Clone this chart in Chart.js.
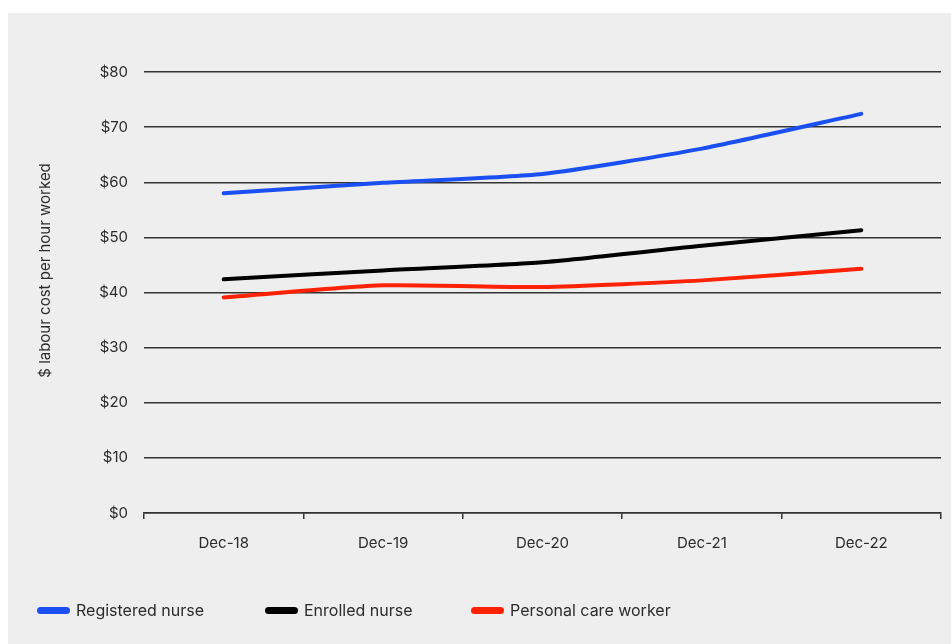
<!DOCTYPE html>
<html>
<head>
<meta charset="utf-8">
<script src="https://cdn.jsdelivr.net/npm/chart.js@4/dist/chart.umd.min.js"></script>
<style>
  html, body { margin: 0; padding: 0; background: #ffffff; }
  body { width: 951px; height: 644px; position: relative; overflow: hidden; font-family: Inter, "Liberation Sans", sans-serif; }
  #panel { position: absolute; left: 8px; top: 13px; width: 943px; height: 631px; background: #eeeeee; }
  #chart-wrap { position: absolute; left: 0; top: 0; width: 943px; height: 631px; }
  .legend-item { position: absolute; top: 588px; height: 18px; display: flex; align-items: center; font-size: 16px; color: #2b2b2b; white-space: nowrap; }
  .legend-swatch { width: 33px; height: 7px; border-radius: 4px; margin-right: 6px; }
  #lg0 { left: 29px; }
  #lg1 { left: 257px; }
  #lg2 { left: 463px; }
</style>
</head>
<body>
<div id="panel">
  <div id="chart-wrap"><canvas id="c" width="943" height="631"></canvas></div>
  <div class="legend-item" id="lg0"></div>
  <div class="legend-item" id="lg1"></div>
  <div class="legend-item" id="lg2"></div>
</div>
<script>
// Labour cost per hour worked, by occupation (December each year)
const categories = ['Dec-18', 'Dec-19', 'Dec-20', 'Dec-21', 'Dec-22'];
const registeredNurse = [58.0, 59.9, 61.5, 66.1, 72.4];
const enrolledNurse   = [42.4, 44.0, 45.5, 48.5, 51.3];
const personalCare    = [39.1, 41.3, 41.0, 42.2, 44.3];
const seriesNames = ['Registered nurse', 'Enrolled nurse', 'Personal care worker'];
const yTicks = [0, 10, 20, 30, 40, 50, 60, 70, 80];
const yTitle = '$ labour cost per hour worked';

const colors = ['#1a4ff2', '#000000', '#ff2205'];
const FONT = 'Inter, "Liberation Sans", sans-serif';
const TEXT = '#2b2b2b';
const RULE = '#333333';

const seriesValues = [registeredNurse, enrolledNurse, personalCare];
const datasets = seriesValues.map((vals, i) => ({
  label: seriesNames[i],
  data: vals,
  borderColor: colors[i],
  backgroundColor: colors[i],
  borderWidth: 4,
  borderCapStyle: 'round',
  borderJoinStyle: 'round',
  pointRadius: 0,
  pointHoverRadius: 0,
  tension: 0.2,
  fill: false
}));

// Rotated y-axis caption placed beside the tick labels
const yCaption = {
  id: 'yCaption',
  afterDraw(chart) {
    const ctx = chart.ctx;
    const area = chart.chartArea;
    ctx.save();
    ctx.translate(37, area.top + (area.bottom - area.top) * 0.45);
    ctx.rotate(-Math.PI / 2);
    ctx.font = '15px ' + FONT;
    ctx.fillStyle = TEXT;
    ctx.textAlign = 'center';
    ctx.textBaseline = 'middle';
    ctx.fillText(yTitle, 0, 0);
    ctx.restore();
  }
};

const chart = new Chart(document.getElementById('c'), {
  type: 'line',
  data: { labels: categories, datasets },
  plugins: [yCaption],
  options: {
    responsive: false,
    animation: false,
    events: [],
    layout: { padding: { top: 59, right: 10, left: 0, bottom: 0 } },
    plugins: {
      legend: { display: false },
      tooltip: { enabled: false },
      title: { display: false }
    },
    scales: {
      x: {
        type: 'category',
        offset: true,
        grid: {
          offset: true,
          drawOnChartArea: false,
          drawTicks: true,
          tickLength: 6,
          color: RULE,
          lineWidth: 1.5
        },
        border: { display: true, color: RULE, width: 1.5 },
        ticks: { color: TEXT, font: { family: FONT, size: 15 }, padding: 15, maxRotation: 0 },
        afterFit(scale) { scale.height = 131; }
      },
      y: {
        min: 0,
        max: 80,
        afterBuildTicks(scale) { scale.ticks = yTicks.map(v => ({ value: v })); },
        grid: { color: RULE, lineWidth: 1.4, drawTicks: false },
        border: { display: false },
        ticks: {
          color: TEXT,
          font: { family: FONT, size: 15 },
          padding: 16,
          callback: v => '$' + v
        },
        afterFit(scale) { scale.width = 136; }
      }
    }
  }
});

// Legend entries built from the chart's datasets
chart.data.datasets.forEach((ds, i) => {
  const item = document.getElementById('lg' + i);
  const sw = document.createElement('span');
  sw.className = 'legend-swatch';
  sw.style.background = ds.borderColor;
  const tx = document.createElement('span');
  tx.textContent = ds.label;
  item.appendChild(sw);
  item.appendChild(tx);
});
</script>
</body>
</html>
